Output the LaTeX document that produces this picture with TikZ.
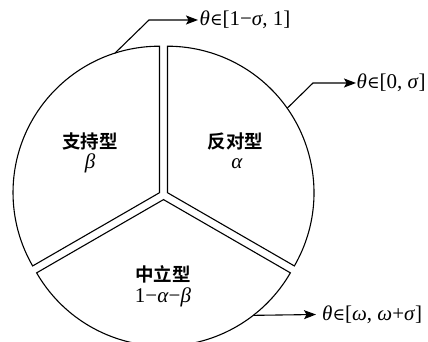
\documentclass[tikz,border=0pt]{standalone}
\usepackage{fontspec}
\setmainfont{Liberation Serif}
\newfontfamily\cjk{Noto Sans CJK SC}[BoldFont={Noto Sans CJK SC Bold}]
\newfontfamily\symf{DejaVu Serif}
\usetikzlibrary{arrows.meta,calc}
\newcommand{\elem}{{\symf\fontsize{17}{17}\selectfont ∈}}
\begin{document}
\begin{tikzpicture}[x=1pt,y=1pt,
  sector/.style={draw=black,line width=1.1pt,line join=miter},
  pointer/.style={draw=black,line width=1.1pt,-{Stealth[length=12pt,width=9pt,inset=2.5pt]}},
  cjklabel/.style={font=\cjk\bfseries\fontsize{18.5}{18.5}\selectfont,inner sep=0pt},
  mathlabel/.style={font=\fontsize{21}{21}\selectfont,inner sep=0pt},
  rangelabel/.style={font=\fontsize{21}{21}\selectfont,inner sep=0pt,anchor=west}]
\useasboundingbox (0,0) rectangle (428,342);
\def\R{146.5}
\coordinate (Lc) at (159.52,149.3);
\coordinate (Rc) at (167.48,149.3);
\coordinate (Bc) at (163.5,142.4);
% sectors
\draw[sector] (Lc) -- ($(Lc)+(90:\R)$) arc[start angle=90,end angle=210,radius=\R] -- cycle;
\draw[sector] (Rc) -- ($(Rc)+(-30:\R)$) arc[start angle=-30,end angle=90,radius=\R] -- cycle;
\draw[sector] (Bc) -- ($(Bc)+(210:\R)$) arc[start angle=210,end angle=330,radius=\R] -- cycle;
% labels
\node[cjklabel] (sup) at (90,201) {支持型};
\node[mathlabel] (beta) at (90,179) {\textit{β}};
\node[cjklabel] (opp) at (235.5,201) {反对型};
\node[mathlabel] (alpha) at (237,178) {\textit{α}};
\node[cjklabel] (neu) at (163,68) {中立型};
\node[mathlabel] (rest) at (163,45) {1−\textit{α}−\textit{β}};
% pointers
\coordinate (A1) at ($(Lc)+(107.7:\R)$);
\coordinate (E1) at (149,322);
\coordinate (T1) at (198,322);
\coordinate (A2) at ($(Rc)+(35.2:\R)$);
\coordinate (E2) at (313,259);
\coordinate (T2) at (356,259);
\coordinate (A3) at ($(Bc)+(-52.2:\R)$);
\coordinate (T3) at (316,27.5);
\draw[pointer] (A1) -- (E1) -- (T1);
\draw[pointer] (A2) -- (E2) -- (T2);
\draw[pointer] (A3) -- (T3);
\node[rangelabel] (r1) at ($(T1)+(1.5,0)$) {\textit{θ}\elem[1−\textit{σ}, 1]};
\node[rangelabel] (r2) at ($(T2)+(0.5,0)$) {\textit{θ}\elem[0, \textit{σ}]};
\node[rangelabel] (r3) at ($(T3)+(6,0)$) {\textit{θ}\elem[\textit{ω}, \textit{ω}+\textit{σ}]};
\end{tikzpicture}
\end{document}
